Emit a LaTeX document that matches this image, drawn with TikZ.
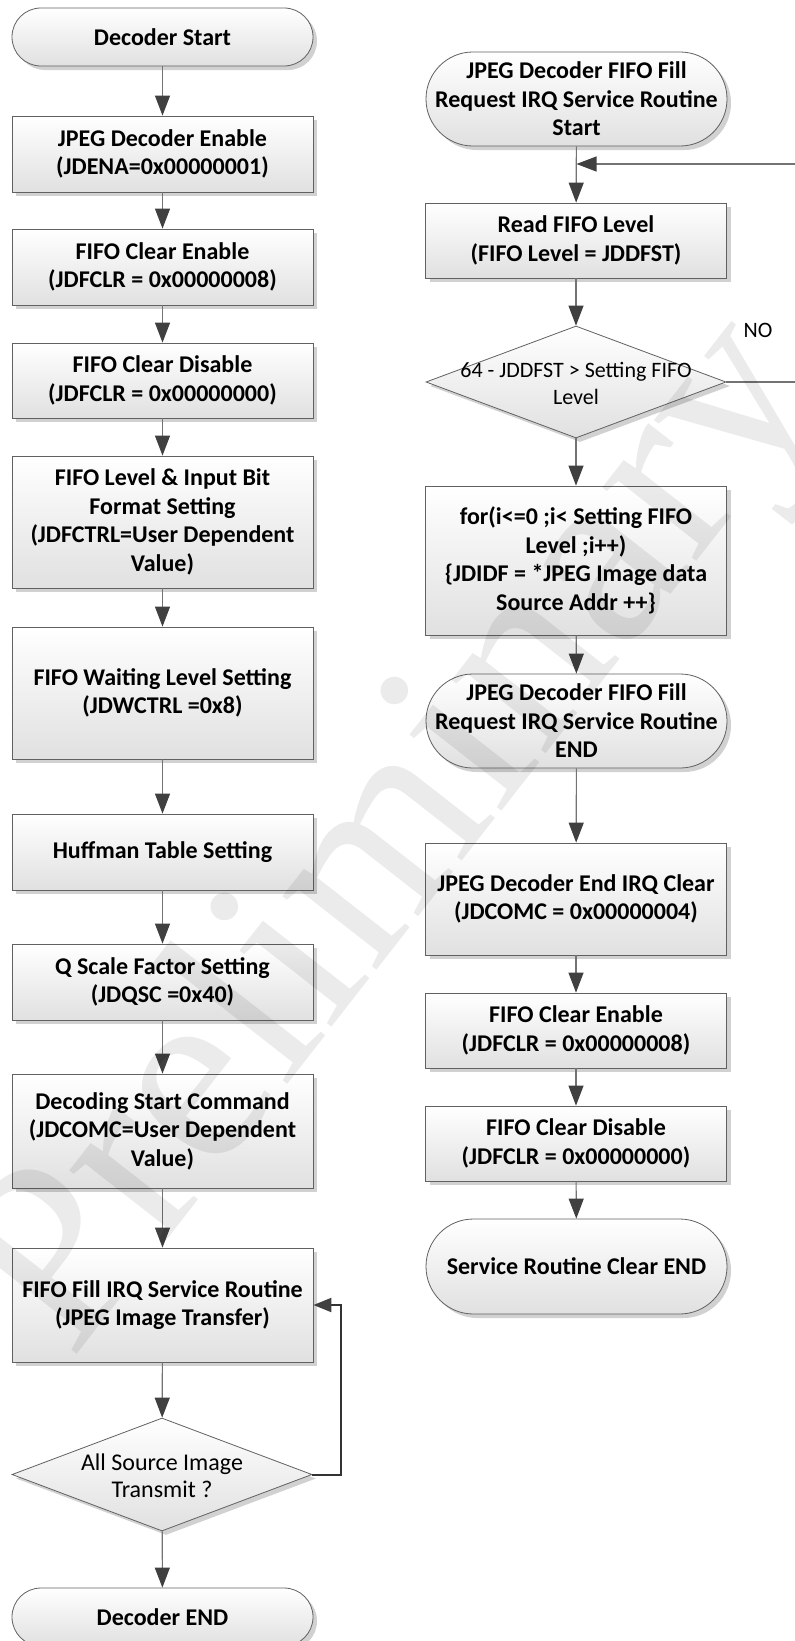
\documentclass[tikz,border=0pt]{standalone}
\usepackage{fontspec}
\setmainfont{Carlito}
\newfontfamily\wmfont{Liberation Serif}
\usetikzlibrary{shapes.geometric,shadows,arrows.meta}
\begin{document}
\begin{tikzpicture}[x=1pt,y=-1pt,
  base/.style={draw=black!62, line width=0.8pt, align=center, inner sep=0pt,
    top color=white, bottom color=black!12,
    font=\fontsize{24}{28.5}\selectfont\bfseries,
    drop shadow={shadow xshift=4pt, shadow yshift=-4pt, fill=black!18, opacity=1}},
  proc/.style={base, rectangle, minimum width=301pt},
  term/.style={base, rectangle, minimum width=301pt, rounded corners=#1},
  dec/.style={base, diamond, minimum width=300pt},
  lbl/.style={font=\fontsize{#1}{27}\selectfont, align=center, inner sep=0pt},
  arr/.style={draw=black!55, line width=1.1pt,
    -{Triangle[length=20pt,width=15pt,color=black!75]}},
  looparr/.style={draw=black!80, line width=2pt,
    -{Triangle[length=18pt,width=14pt,color=black!75]}},
  plain/.style={draw=black!55, line width=1.1pt}
]
\useasboundingbox (0,0) rectangle (795,1641);
\clip (0,0) rectangle (795,1641);
\fill[white] (0,0) rectangle (795,1641);

% ---------- left column ----------
\node[term=28.9pt, minimum height=58pt] (ds) at (162.5,37) {Decoder Start};
\node[proc, minimum height=76pt] (b1) at (162.5,154) {JPEG Decoder Enable\\(JDENA=0x00000001)};
\node[proc, minimum height=76pt] (b2) at (162.5,267) {FIFO Clear Enable\\(JDFCLR = 0x00000008)};
\node[proc, minimum height=75pt] (b3) at (162.5,380.5) {FIFO Clear Disable\\(JDFCLR = 0x00000000)};
\node[proc, minimum height=132pt] (b4) at (162.5,522) {FIFO Level \& Input Bit\\Format Setting\\(JDFCTRL=User Dependent\\Value)};
\node[proc, minimum height=132pt] (b5) at (162.5,693) {FIFO Waiting Level Setting\\(JDWCTRL =0x8)};
\node[proc, minimum height=76pt] (b6) at (162.5,852) {Huffman Table Setting};
\node[proc, minimum height=76pt] (b7) at (162.5,982) {Q Scale Factor Setting\\(JDQSC =0x40)};
\node[proc, minimum height=114pt] (b8) at (162.5,1131) {Decoding Start Command\\(JDCOMC=User Dependent\\Value)};
\node[proc, minimum height=114pt] (b9) at (162.5,1305) {FIFO Fill IRQ Service Routine\\(JPEG Image Transfer)};
\node[dec, minimum height=113pt] (d1) at (162,1474.5) {};
\node[lbl=24] (d1t) at (162,1476) {All Source Image\\Transmit ?};
\node[term=28.9pt, minimum height=58pt] (de) at (162.5,1617) {Decoder END};

\draw[arr] (ds) -- (b1);
\draw[arr] (b1) -- (b2);
\draw[arr] (b2) -- (b3);
\draw[arr] (b3) -- (b4);
\draw[arr] (b4) -- (b5);
\draw[arr] (b5) -- (b6);
\draw[arr] (b6) -- (b7);
\draw[arr] (b7) -- (b8);
\draw[arr] (b8) -- (b9);
\draw[arr] (b9) -- (d1);
\draw[arr] (d1) -- (de);
\draw[looparr] (d1.east) -- (341,1474.5) |- (b9.east);

% ---------- right column ----------
\node[term=46.9pt, minimum height=94pt] (rs) at (576.5,99) {JPEG Decoder FIFO Fill\\Request IRQ Service Routine\\Start};
\node[proc, minimum height=75pt] (r1) at (576,240.5) {Read FIFO Level\\(FIFO Level = JDDFST)};
\node[dec, minimum height=112pt] (rd) at (576,382) {};
\node[lbl=22] (rdt) at (576,383) {64 - JDDFST > Setting FIFO\\Level};
\node[proc, minimum height=149pt] (r2) at (576,560.5) {for(i<=0 ;i< Setting FIFO\\Level ;i++)\\\{JDIDF = *JPEG Image data\\Source Addr ++\}};
\node[term=46.9pt, minimum height=94pt] (re) at (576.5,721) {JPEG Decoder FIFO Fill\\Request IRQ Service Routine\\END};
\node[proc, minimum height=112pt] (r3) at (576,899) {JPEG Decoder End IRQ Clear\\(JDCOMC = 0x00000004)};
\node[proc, minimum height=75pt] (r4) at (576,1030.5) {FIFO Clear Enable\\(JDFCLR = 0x00000008)};
\node[proc, minimum height=75pt] (r5) at (576,1143.5) {FIFO Clear Disable\\(JDFCLR = 0x00000000)};
\node[term=47.4pt, minimum height=95pt] (rf) at (576.5,1266.5) {Service Routine Clear END};
\node[lbl=22] (no) at (758,330) {NO};

\coordinate (j) at (576.5,164);
\coordinate (far) at (830,382);

\draw[arr] (rs) -- (r1);
\draw[arr] (r1) -- (rd);
\draw[arr] (rd) -- (r2);
\draw[arr] (r2) -- (re);
\draw[arr] (re) -- (r3);
\draw[arr] (r3) -- (r4);
\draw[arr] (r4) -- (r5);
\draw[arr] (r5) -- (rf);
\draw[arr] (rd.east) -- (far) |- (j);

% ---------- watermark ----------
\node[rotate=52, text=black, opacity=0.08, inner sep=0pt,
  font=\wmfont\fontsize{260}{260}\selectfont] (wm) at (400,840) {Preliminary};
\end{tikzpicture}
\end{document}
